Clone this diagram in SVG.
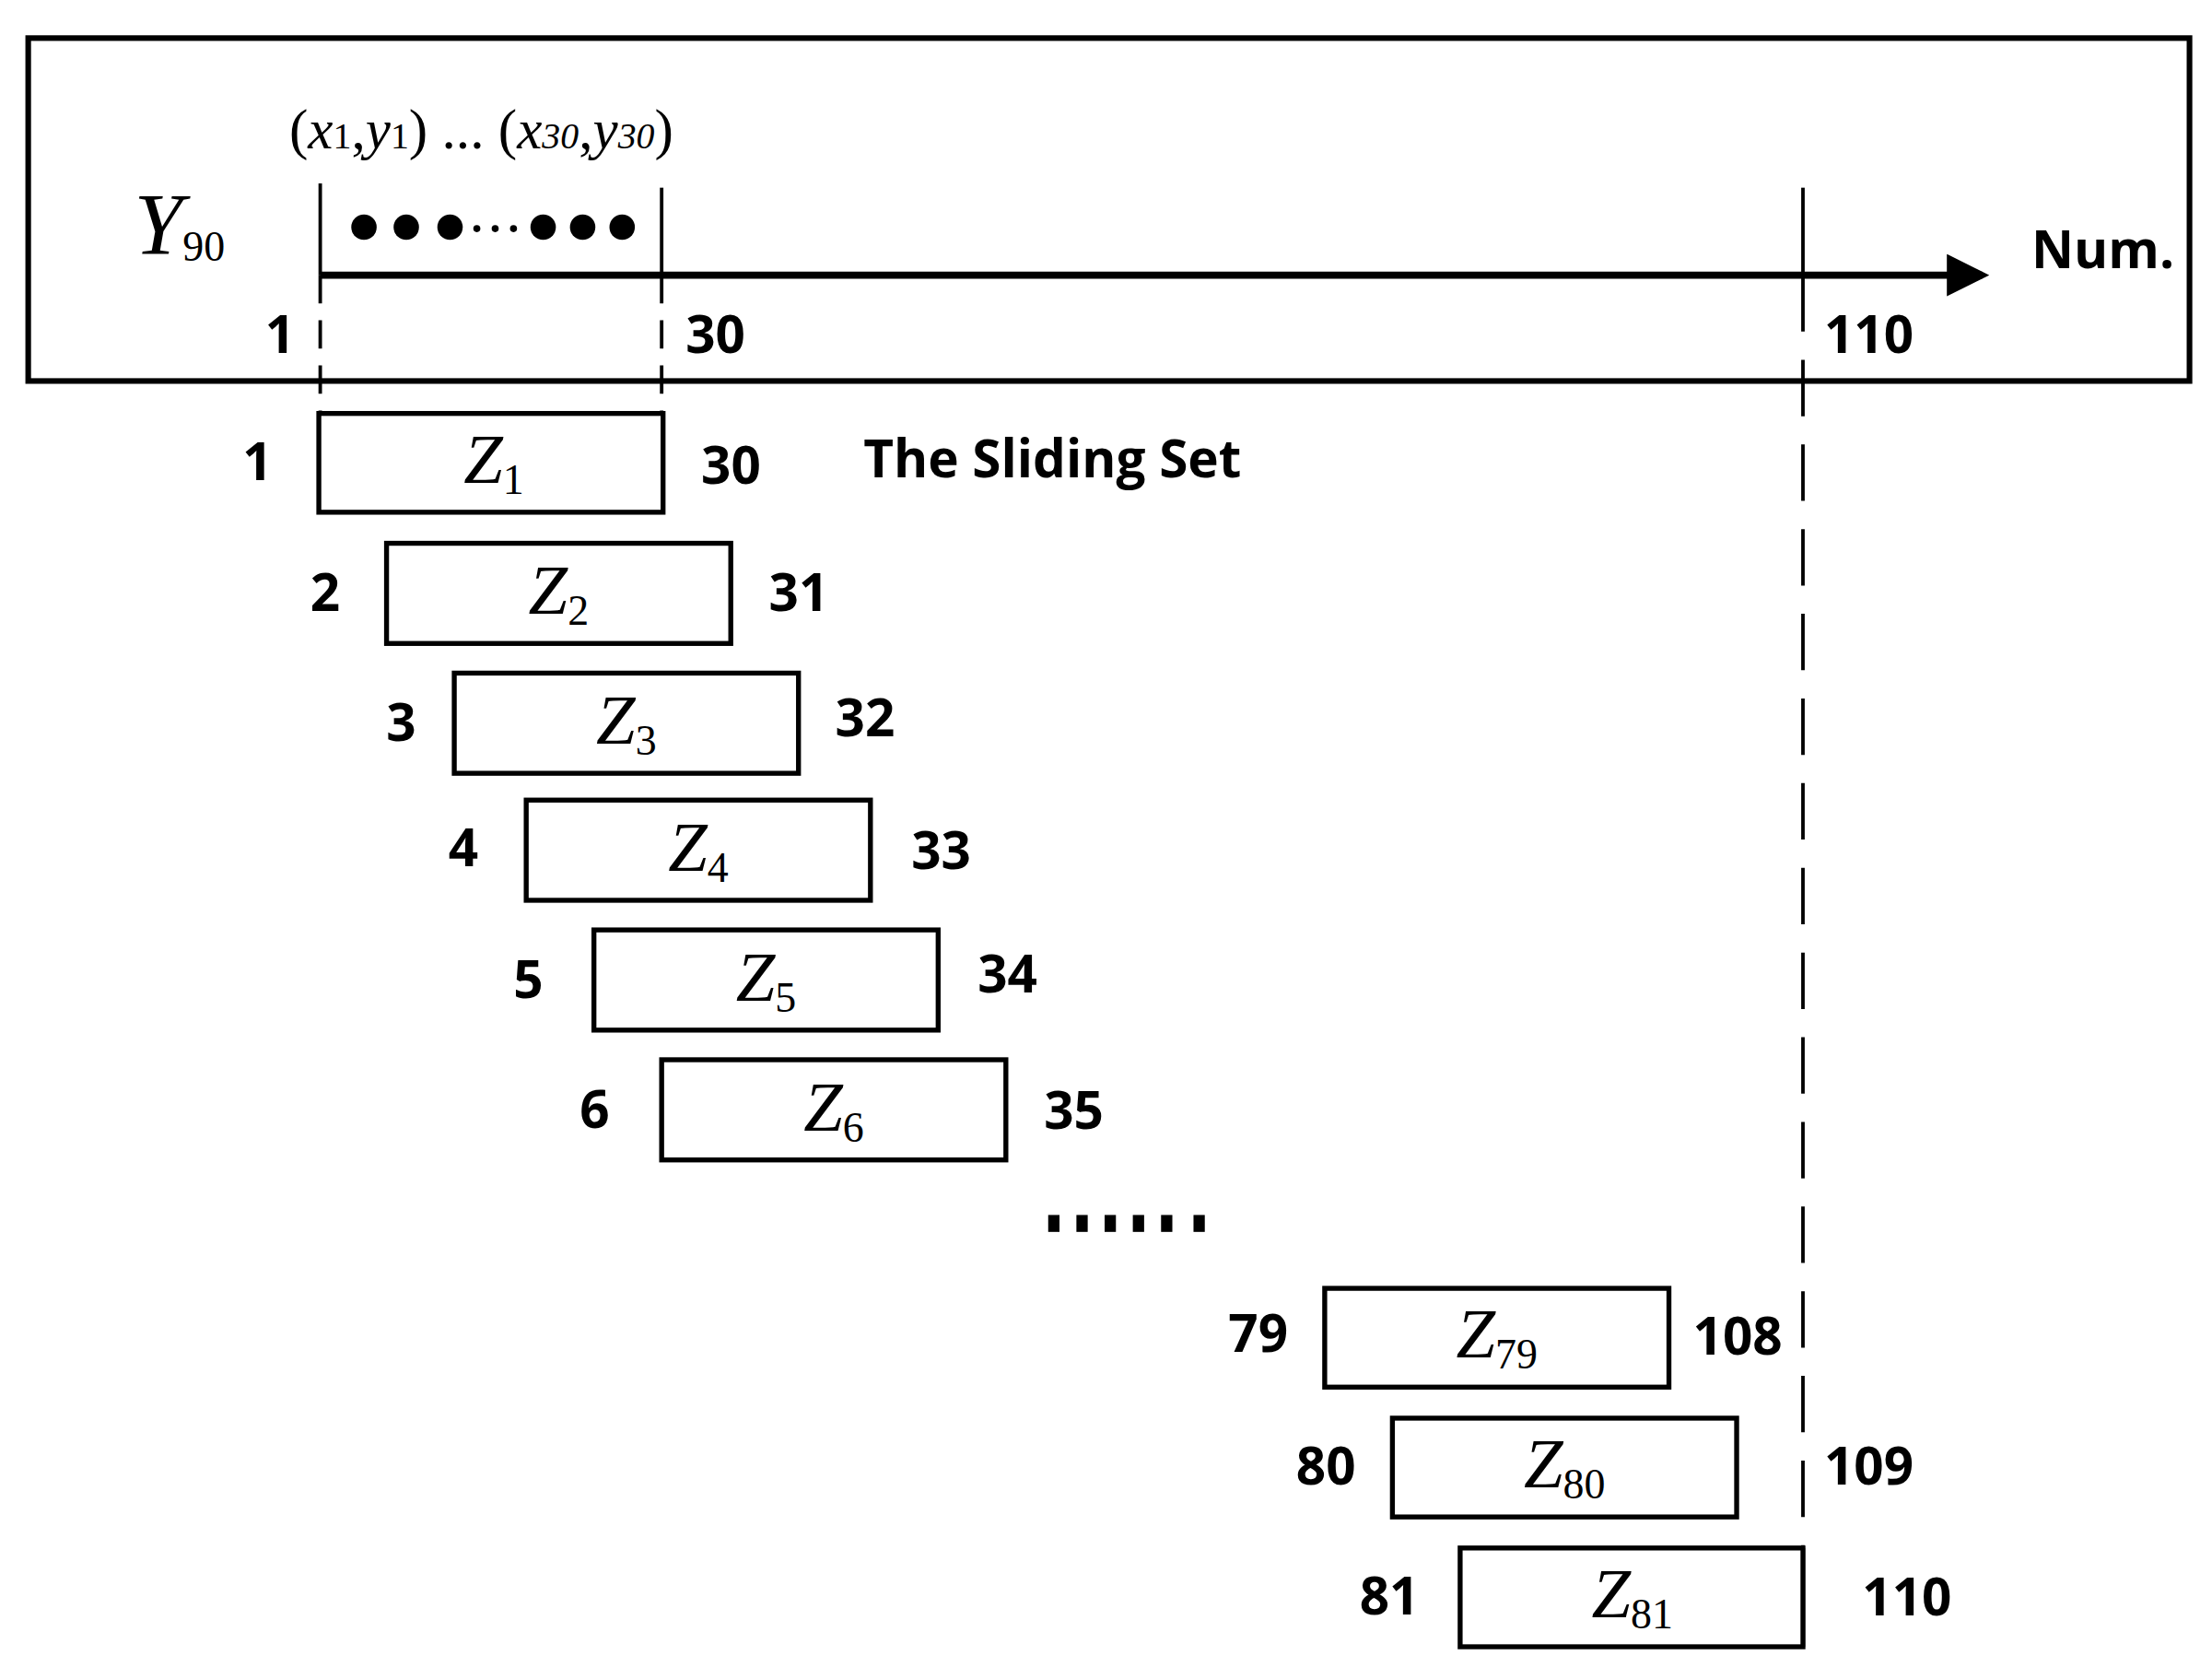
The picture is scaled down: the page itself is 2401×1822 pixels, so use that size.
<svg xmlns="http://www.w3.org/2000/svg" width="2401" height="1822" viewBox="0 0 2401 1822">
<style>
.b{fill:#fff;stroke:#000;stroke-width:3.5}
.n{font-family:"Open Sans","DejaVu Sans",sans-serif;font-weight:bold;font-size:37px;fill:#000}
.z{font-family:"Liberation Serif",serif;font-style:italic;font-size:50px;fill:#000}
.s{font-size:30px;font-style:normal}
.r{text-anchor:end}
.zc{text-anchor:middle}
</style>
<defs><marker id="ah" markerWidth="6" markerHeight="6" refX="5" refY="3" orient="auto" markerUnits="strokeWidth"><path d="M0,0 L6,3 L0,6 Z" fill="#000"/></marker></defs>
<rect width="2401" height="1822" fill="#fff"/>
<g transform="scale(1.5313)">
<g id="frame">
<rect x="20" y="27" width="1532" height="243" fill="none" stroke="#000" stroke-width="4"/>
<text x="95" y="180" class="z" style="font-size:62px">Y<tspan class="s" dy="5">90</tspan></text>
<text x="205" y="105" class="z" style="font-style:normal;font-size:40px">(<tspan font-style="italic">x</tspan><tspan font-size="26">1</tspan>,<tspan font-style="italic">y</tspan><tspan font-size="26">1</tspan>) ... (<tspan font-style="italic">x</tspan><tspan font-size="26" font-style="italic">30</tspan>,<tspan font-style="italic">y</tspan><tspan font-size="26" font-style="italic">30</tspan>)</text>
<g fill="#000"><circle cx="258" cy="161" r="9"/><circle cx="288" cy="161" r="9"/><circle cx="319" cy="161" r="9"/><circle cx="338" cy="162" r="2.5"/><circle cx="351" cy="162" r="2.5"/><circle cx="364" cy="162" r="2.5"/><circle cx="385" cy="161" r="9"/><circle cx="413" cy="161" r="9"/><circle cx="441" cy="161" r="9"/></g>
<text x="1440" y="190" class="n">Num.</text>
<text x="209" y="250" class="n r">1</text>
<text x="486" y="250" class="n">30</text>
<text x="1293" y="250" class="n">110</text>
</g>
<g id="connectors" stroke="#000" fill="none">
<line x1="227" y1="195" x2="1405" y2="195" stroke-width="5" marker-end="url(#ah)"/>
<line x1="227" y1="130" x2="227" y2="195" stroke-width="2.5"/>
<line x1="469" y1="133" x2="469" y2="195" stroke-width="2.5"/>
<line x1="1278" y1="133" x2="1278" y2="195" stroke-width="2.5"/>
<line x1="227" y1="195" x2="227" y2="292" stroke-width="2.5" stroke-dasharray="20,12"/>
<line x1="469" y1="195" x2="469" y2="292" stroke-width="2.5" stroke-dasharray="20,12"/>
<line x1="1278" y1="195" x2="1278" y2="1097" stroke-width="2.5" stroke-dasharray="40,20"/>
<line x1="1278" y1="1097" x2="1278" y2="1167" stroke-width="3"/>
</g>
<g id="dots" fill="#000"><rect x="743" y="861" width="8" height="12"/><rect x="763" y="861" width="8" height="12"/><rect x="783" y="861" width="8" height="12"/><rect x="803" y="861" width="8" height="12"/><rect x="823" y="861" width="8" height="12"/><rect x="846" y="861" width="8" height="12"/></g>
<text x="612" y="338" class="n">The Sliding Set</text>
<g id="z1"><rect class="b" x="226" y="293" width="244" height="70"/><text class="z zc" x="350" y="342">Z<tspan class="s" dy="8">1</tspan></text><text class="n r" x="193" y="340">1</text><text class="n" x="497" y="343">30</text></g>
<g id="z2"><rect class="b" x="274" y="385" width="244" height="71"/><text class="z zc" x="396" y="435">Z<tspan class="s" dy="8">2</tspan></text><text class="n r" x="241" y="433">2</text><text class="n" x="545" y="433">31</text></g>
<g id="z3"><rect class="b" x="322" y="477" width="244" height="71"/><text class="z zc" x="444" y="527">Z<tspan class="s" dy="8">3</tspan></text><text class="n r" x="295" y="525">3</text><text class="n" x="592" y="522">32</text></g>
<g id="z4"><rect class="b" x="373" y="567" width="244" height="71"/><text class="z zc" x="495" y="617">Z<tspan class="s" dy="8">4</tspan></text><text class="n r" x="339" y="614">4</text><text class="n" x="646" y="616">33</text></g>
<g id="z5"><rect class="b" x="421" y="659" width="244" height="71"/><text class="z zc" x="543" y="709">Z<tspan class="s" dy="8">5</tspan></text><text class="n r" x="385" y="707">5</text><text class="n" x="693" y="703">34</text></g>
<g id="z6"><rect class="b" x="469" y="751" width="244" height="71"/><text class="z zc" x="591" y="801">Z<tspan class="s" dy="8">6</tspan></text><text class="n r" x="432" y="799">6</text><text class="n" x="740" y="800">35</text></g>
<g id="z79"><rect class="b" x="939" y="913" width="244" height="70"/><text class="z zc" x="1061" y="962">Z<tspan class="s" dy="8">79</tspan></text><text class="n r" x="913" y="958">79</text><text class="n" x="1200" y="960">108</text></g>
<g id="z80"><rect class="b" x="987" y="1005" width="244" height="70"/><text class="z zc" x="1109" y="1054">Z<tspan class="s" dy="8">80</tspan></text><text class="n r" x="961" y="1052">80</text><text class="n" x="1293" y="1052">109</text></g>
<g id="z81"><rect class="b" x="1035" y="1097" width="243" height="70"/><text class="z zc" x="1157" y="1146">Z<tspan class="s" dy="8">81</tspan></text><text class="n r" x="1006" y="1144">81</text><text class="n" x="1320" y="1145">110</text></g>
</g>
</svg>
